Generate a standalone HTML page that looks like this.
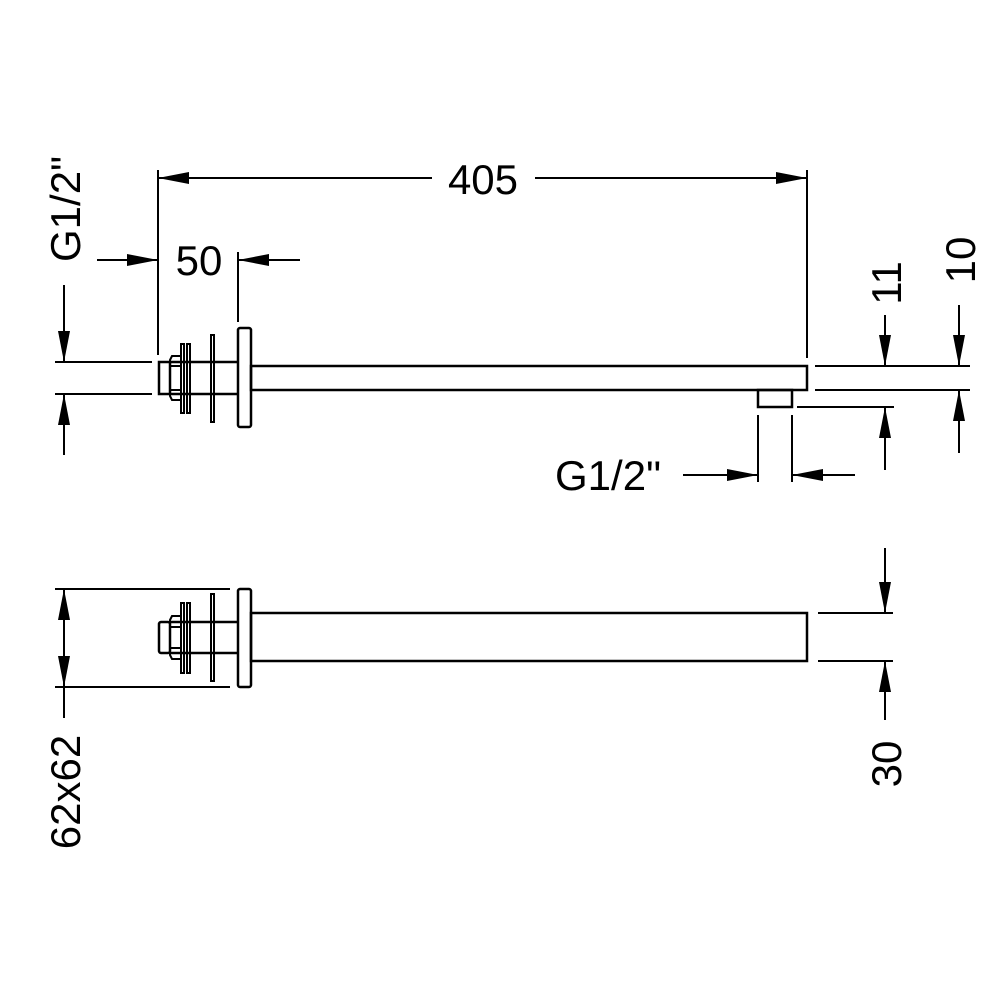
<!DOCTYPE html>
<html><head><style>body{margin:0;background:#fff}svg{display:block}</style></head>
<body>
<svg width="1000" height="1000" viewBox="0 0 1000 1000" xmlns="http://www.w3.org/2000/svg">
<defs>
<marker id="a" viewBox="0 0 10 10" refX="10" refY="5" markerWidth="31" markerHeight="12" markerUnits="userSpaceOnUse" orient="auto-start-reverse" preserveAspectRatio="none">
<path d="M0,0 L10,5 L0,10 z" fill="#000"/></marker>
</defs>
<g stroke="#000" stroke-width="2" fill="none">
<!-- TOP VIEW -->
<rect x="238" y="328" width="13" height="99" rx="2" stroke-width="2.5"/>
<rect x="251" y="366" width="556" height="24" stroke-width="2.5"/>
<rect x="758" y="390" width="34" height="17" stroke-width="2.5"/>
<line x1="170" y1="362" x2="238" y2="362" stroke-width="2.5"/>
<line x1="170" y1="394" x2="238" y2="394" stroke-width="2.5"/>
<rect x="159" y="362" width="11" height="32" stroke-width="2.5"/>
<path d="M170,360 L172,356 L181,356 L181,400 L172,400 L170,396 Z"/>
<line x1="170" y1="366" x2="181" y2="366"/><line x1="170" y1="390" x2="181" y2="390"/>
<rect x="181" y="344" width="3" height="69"/>
<rect x="187" y="344" width="3" height="69"/>
<rect x="211" y="335" width="3" height="87"/>
<!-- left dim G1/2 -->
<line x1="55" y1="362" x2="152" y2="362"/>
<line x1="55" y1="394" x2="152" y2="394"/>
<line x1="64" y1="285" x2="64" y2="362" marker-end="url(#a)"/>
<line x1="64" y1="455" x2="64" y2="394" marker-end="url(#a)"/>
<!-- 50 / 405 -->
<line x1="158" y1="170" x2="158" y2="355"/>
<line x1="238" y1="252" x2="238" y2="322"/>
<line x1="807" y1="170" x2="807" y2="358"/>
<line x1="97" y1="260" x2="158" y2="260" marker-end="url(#a)"/>
<line x1="300" y1="260" x2="238" y2="260" marker-end="url(#a)"/>
<line x1="432" y1="178" x2="158" y2="178" marker-end="url(#a)"/>
<line x1="535" y1="178" x2="807" y2="178" marker-end="url(#a)"/>
<!-- right dims -->
<line x1="815" y1="366" x2="970" y2="366"/>
<line x1="815" y1="390" x2="970" y2="390"/>
<line x1="797" y1="407" x2="894" y2="407"/>
<line x1="885" y1="315" x2="885" y2="366" marker-end="url(#a)"/>
<line x1="885" y1="470" x2="885" y2="407" marker-end="url(#a)"/>
<line x1="959" y1="305" x2="959" y2="366" marker-end="url(#a)"/>
<line x1="959" y1="453" x2="959" y2="390" marker-end="url(#a)"/>
<!-- lower G1/2 -->
<line x1="758" y1="415" x2="758" y2="482"/>
<line x1="792" y1="415" x2="792" y2="482"/>
<line x1="683" y1="475" x2="758" y2="475" marker-end="url(#a)"/>
<line x1="855" y1="475" x2="792" y2="475" marker-end="url(#a)"/>

<!-- BOTTOM VIEW -->
<rect x="238" y="589" width="13" height="98" rx="2" stroke-width="2.5"/>
<rect x="251" y="613" width="556" height="48" stroke-width="2.5"/>
<line x1="170" y1="622" x2="238" y2="622" stroke-width="2.5"/>
<line x1="170" y1="653" x2="238" y2="653" stroke-width="2.5"/>
<rect x="159" y="622" width="11" height="31" rx="2" stroke-width="2.5"/>
<path d="M170,620 L172,616 L181,616 L181,659 L172,659 L170,655 Z"/>
<line x1="170" y1="627" x2="181" y2="627"/><line x1="170" y1="648" x2="181" y2="648"/>
<rect x="181" y="603" width="3" height="70"/>
<rect x="187" y="603" width="3" height="70"/>
<rect x="211" y="594" width="3" height="87"/>
<line x1="55" y1="589" x2="230" y2="589"/>
<line x1="55" y1="687" x2="230" y2="687"/>
<line x1="64" y1="638" x2="64" y2="589" marker-end="url(#a)"/>
<line x1="64" y1="638" x2="64" y2="687" marker-end="url(#a)"/>
<line x1="64" y1="687" x2="64" y2="718"/>
<line x1="818" y1="613" x2="893" y2="613"/>
<line x1="818" y1="661" x2="893" y2="661"/>
<line x1="885" y1="548" x2="885" y2="613" marker-end="url(#a)"/>
<line x1="885" y1="720" x2="885" y2="661" marker-end="url(#a)"/>
</g>
<g font-family="Liberation Sans, sans-serif" font-size="42" fill="#000">
<text x="483" y="194" text-anchor="middle">405</text>
<text x="199" y="275" text-anchor="middle">50</text>
<text x="608" y="490" text-anchor="middle">G1/2"</text>
<text transform="translate(80,209) rotate(-90)" text-anchor="middle">G1/2"</text>
<text transform="translate(901,283) rotate(-90)" text-anchor="middle">11</text>
<text transform="translate(975,260) rotate(-90)" text-anchor="middle">10</text>
<text transform="translate(80,792) rotate(-90)" text-anchor="middle">62x62</text>
<text transform="translate(901,764) rotate(-90)" text-anchor="middle">30</text>
</g>
</svg>
</body></html>
